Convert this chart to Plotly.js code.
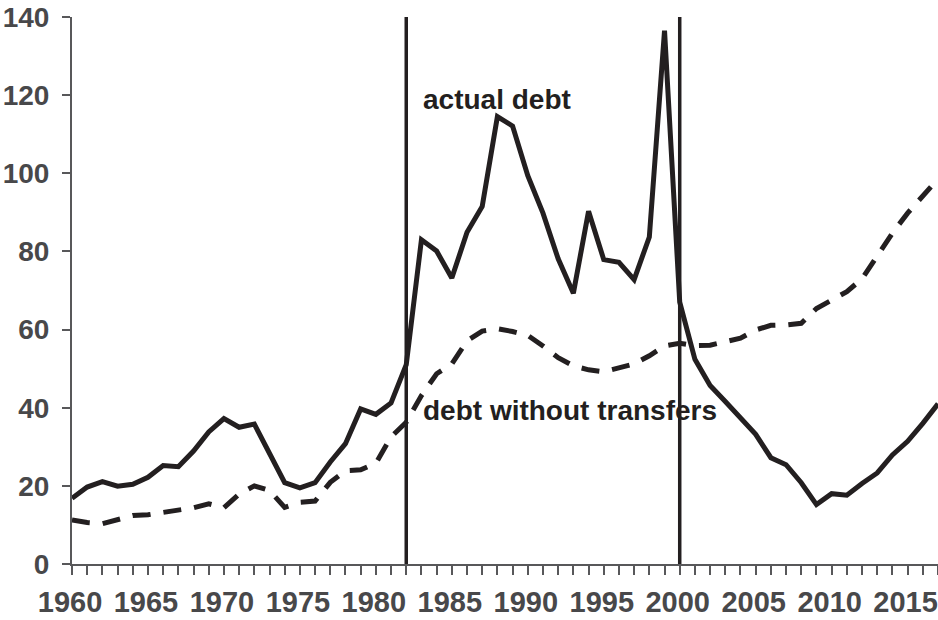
<!DOCTYPE html>
<html>
<head>
<meta charset="utf-8">
<script src="https://cdn.plot.ly/plotly-3.0.1.min.js"></script>
<style>
  html, body { margin: 0; padding: 0; background: #ffffff; }
  #chart { width: 938px; height: 620px; }
</style>
</head>
<body>
<div id="chart"></div>
<script>
const years = [1960,1961,1962,1963,1964,1965,1966,1967,1968,1969,
               1970,1971,1972,1973,1974,1975,1976,1977,1978,1979,
               1980,1981,1982,1983,1984,1985,1986,1987,1988,1989,
               1990,1991,1992,1993,1994,1995,1996,1997,1998,1999,
               2000,2001,2002,2003,2004,2005,2006,2007,2008,2009,
               2010,2011,2012,2013,2014,2015,2016,2017];

const actualDebt = [16.8,19.7,21.1,19.9,20.4,22.2,25.2,24.9,28.9,33.8,
                    37.2,35.0,35.8,28.5,20.8,19.5,20.8,26.1,30.8,39.7,
                    38.3,41.2,51.0,83.0,80.1,73.2,84.9,91.5,114.5,112.1,
                    99.4,89.8,78.1,69.3,90.3,77.9,77.2,72.8,83.7,136.5,
                    67.0,52.4,45.7,41.6,37.3,33.2,27.2,25.4,20.8,15.2,
                    18.0,17.6,20.6,23.3,27.9,31.4,36.0,41.0];

const debtWithoutTransfers = [11.3,10.6,10.3,11.3,12.4,12.6,13.2,13.7,14.4,15.4,
                              14.4,17.9,20.0,18.8,14.5,15.8,16.1,20.9,23.9,24.1,
                              25.8,32.5,36.3,43.1,48.7,51.2,57.1,59.6,60.2,59.5,
                              58.5,55.8,52.8,50.7,49.7,49.2,50.2,51.2,53.3,55.8,
                              56.5,55.9,56.0,56.8,57.8,59.9,61.1,61.2,61.6,65.4,
                              67.5,69.7,73.0,78.8,84.7,89.8,94.3,98.6];

const markerYears = [1982, 2000];
const labels = ["actual debt", "debt without transfers"];
const labelPos = [[1983.0, 119.0], [1983.0, 39.2]];

const ink = "#231f20";
const axisGray = "#58585a";
const labelGray = "#48484a";
const font = "Liberation Sans, Arial, Helvetica, sans-serif";

const traces = [
  { x: years, y: debtWithoutTransfers, type: "scatter", mode: "lines",
    line: { color: ink, width: 5, dash: "18px,13px" }, hoverinfo: "skip" },
  { x: years, y: actualDebt, type: "scatter", mode: "lines",
    line: { color: ink, width: 5 }, hoverinfo: "skip" }
];

const shapes = markerYears.map(yr => ({
  type: "line", xref: "x", yref: "y", x0: yr, x1: yr, y0: 0, y1: 140,
  line: { color: ink, width: 3.5 }
}));

const annotations = labels.map((t, i) => ({
  text: "<b>" + t + "</b>", x: labelPos[i][0], y: labelPos[i][1],
  xref: "x", yref: "y", xanchor: "left", yanchor: "middle", showarrow: false,
  font: { family: font, size: 28, color: ink }
}));

const layout = {
  width: 938, height: 620,
  margin: { l: 72, r: 0, t: 17, b: 56, pad: 0 },
  paper_bgcolor: "#ffffff", plot_bgcolor: "#ffffff",
  showlegend: false,
  font: { family: font, size: 29, color: labelGray },
  xaxis: {
    range: [1960, 2017], showgrid: false, zeroline: false,
    showline: true, linecolor: axisGray, linewidth: 2,
    ticks: "outside", ticklen: 9, tickwidth: 2, tickcolor: axisGray,
    tick0: 1960, dtick: 5, ticklabelstandoff: 2, ticklabelshift: -2,
    ticklabeloverflow: "allow",
    tickfont: { family: font, size: 29, color: labelGray, weight: "bold" },
    minor: { dtick: 1, ticks: "outside", ticklen: 9, tickwidth: 2, tickcolor: axisGray, showgrid: false },
    fixedrange: true
  },
  yaxis: {
    range: [0, 140], showgrid: false, zeroline: false,
    showline: true, linecolor: axisGray, linewidth: 2,
    ticks: "outside", ticklen: 8, tickwidth: 2, tickcolor: axisGray,
    tick0: 0, dtick: 20, ticklabelstandoff: 7, ticklabeloverflow: "allow",
    tickfont: { family: font, size: 28, color: labelGray, weight: "bold" },
    fixedrange: true
  },
  shapes: shapes,
  annotations: annotations
};

Plotly.newPlot("chart", traces, layout, { staticPlot: true, displayModeBar: false });
</script>
</body>
</html>
